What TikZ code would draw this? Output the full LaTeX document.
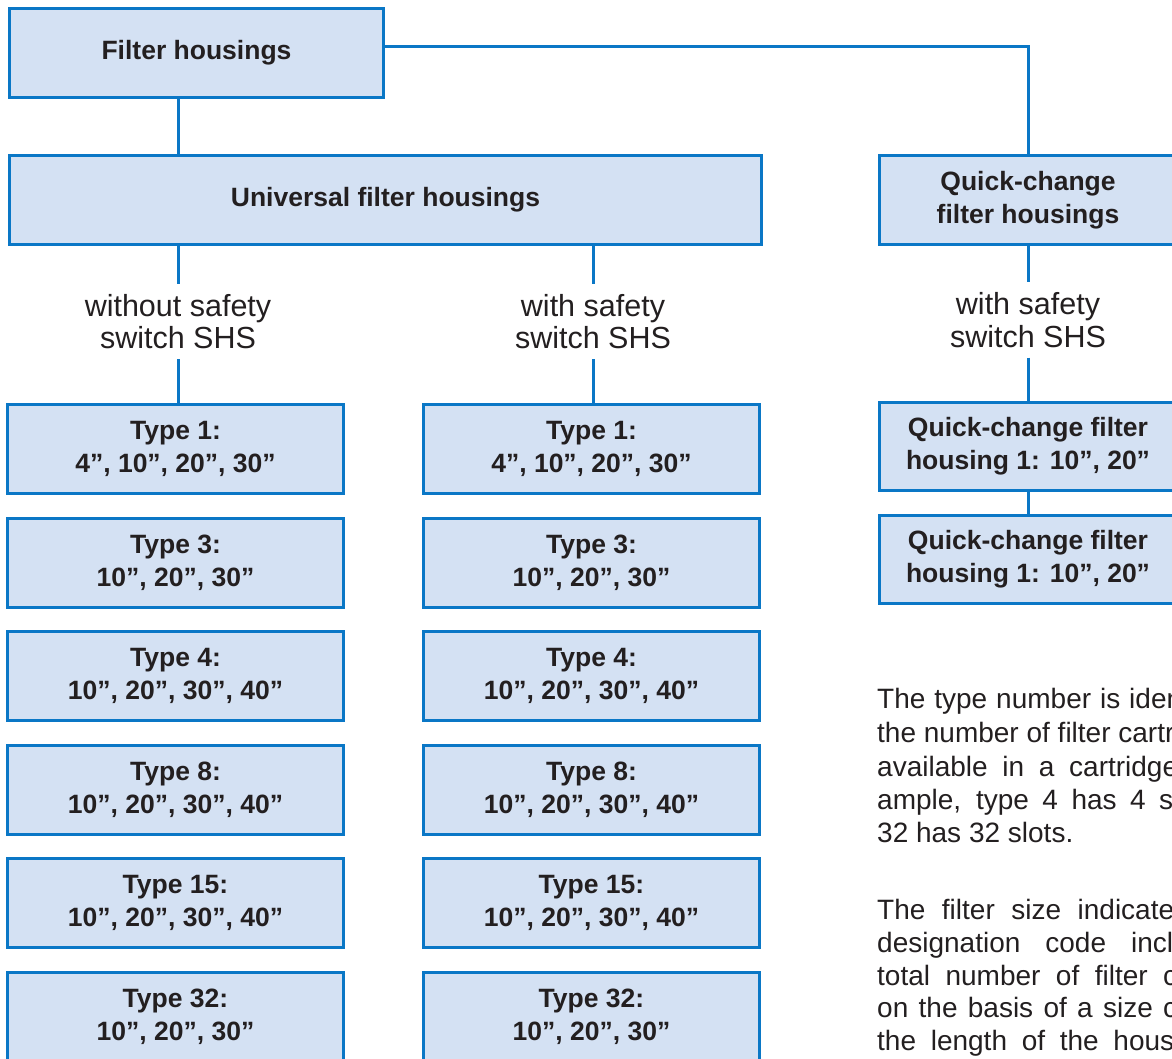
\documentclass[tikz,border=0pt]{standalone}
\usepackage{fontspec}
\setmainfont{Liberation Sans}
\usetikzlibrary{positioning}
\definecolor{boxline}{RGB}{10,119,198}
\definecolor{boxfill}{RGB}{212,225,243}
\definecolor{ink}{RGB}{35,31,32}
\newcommand{\jline}[2]{\makebox[#1pt][s]{#2}}
\tikzset{
	block/.style={draw=boxline, fill=boxfill, line width=3pt, text=ink, align=center,
		font=\fontsize{26.5}{33}\selectfont\bfseries, minimum height=89pt},
	typebox/.style={block, minimum width=336pt},
	branch/.style={text=ink, align=center, font=\fontsize{30.5}{32.5}\selectfont, inner ysep=10pt},
	link/.style={draw=boxline, line width=3pt},
	note/.style={text=ink, anchor=base west, inner sep=0pt, font=\fontsize{28}{33}\selectfont}
}

\begin{document}
\begin{tikzpicture}[x=1pt, y=-1pt]
		\useasboundingbox (0,0) rectangle (1172,1058);
		\clip (0,0) rectangle (1172,1058);
		
		\node[block, minimum width=374pt] (housings) at (196.5,53) {Filter housings};
		
		\node[block, minimum width=752pt] (universal) at (385.5,200) {Universal filter housings};
		\node[block, minimum width=297pt] (quickchange) at (1028,200) {Quick-change\\filter housings};
		
		\node[branch] (nosafety) at (178,321.5) {without safety\\switch SHS};
		\node[branch] (safety) at (593,321.5) {with safety\\switch SHS};
		\node[branch] (quicksafety) at (1028,320) {with safety\\switch SHS};
		
		% without safety switch
		\node[typebox] (nosafe1) at (175.5,449) {Type 1:\\4”, 10”, 20”, 30”};
		\node[typebox] (nosafe3) at (175.5,562.5) {Type 3:\\10”, 20”, 30”};
		\node[typebox] (nosafe4) at (175.5,676) {Type 4:\\10”, 20”, 30”, 40”};
		\node[typebox] (nosafe8) at (175.5,790) {Type 8:\\10”, 20”, 30”, 40”};
		\node[typebox] (nosafe15) at (175.5,903) {Type 15:\\10”, 20”, 30”, 40”};
		\node[typebox] (nosafe32) at (175.5,1017) {Type 32:\\10”, 20”, 30”};
		
		% with safety switch
		\node[typebox] (safe1) at (591.5,449) {Type 1:\\4”, 10”, 20”, 30”};
		\node[typebox] (safe3) at (591.5,562.5) {Type 3:\\10”, 20”, 30”};
		\node[typebox] (safe4) at (591.5,676) {Type 4:\\10”, 20”, 30”, 40”};
		\node[typebox] (safe8) at (591.5,790) {Type 8:\\10”, 20”, 30”, 40”};
		\node[typebox] (safe15) at (591.5,903) {Type 15:\\10”, 20”, 30”, 40”};
		\node[typebox] (safe32) at (591.5,1017) {Type 32:\\10”, 20”, 30”};
		
		\node[block, minimum width=297pt, minimum height=88pt] (quick1) at (1028,446.5) {Quick-change filter\\housing 1: 10”, 20”};
		\node[block, minimum width=297pt, minimum height=88pt] (quick2) at (1028,559) {Quick-change filter\\housing 1: 10”, 20”};
		
		\node[note] (typenote1) at (877,708) {\jline{305}{The type number is iden}};
		\node[note] (typenote2) at (877,742) {the number of filter cartr};
		\node[note] (typenote3) at (877,776) {\jline{301}{available in a cartridge}};
		\node[note] (typenote4) at (877,809) {\jline{296}{ample, type 4 has 4 s}};
		\node[note] (typenote5) at (877,842) {32 has 32 slots.};
		
		\node[note] (sizenote1) at (877,919) {\jline{297}{The filter size indicate}};
		\node[note] (sizenote2) at (877,952) {\jline{296}{designation code incl}};
		\node[note] (sizenote3) at (877,985) {\jline{300}{total number of filter c}};
		\node[note] (sizenote4) at (877,1017) {\jline{300}{on the basis of a size c}};
		\node[note] (sizenote5) at (877,1050) {\jline{297}{the length of the hous}};
		
		\draw[link] (housings.south -| nosafety) -- (universal.north -| nosafety);
		\draw[link] ([yshift=7pt]housings.east) -| (quickchange.north);
		
		\draw[link] (universal.south -| nosafety) -- (nosafety.north);
		\draw[link] (universal.south -| safety) -- (safety.north);
		\draw[link] (quickchange.south) -- (quicksafety.north);
		
		\draw[link] (nosafety.south) -- (nosafe1.north -| nosafety);
		\draw[link] (safety.south) -- (safe1.north -| safety);
		\draw[link] (quicksafety.south) -- (quick1.north);
		\draw[link] (quick1) -- (quick2);
	\end{tikzpicture}
\end{document}
